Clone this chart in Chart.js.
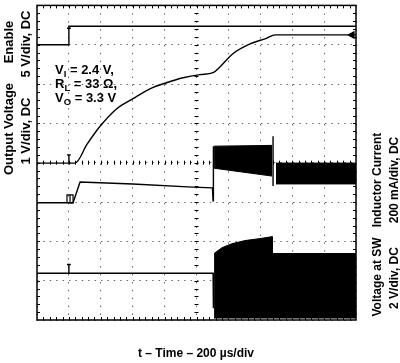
<!DOCTYPE html>
<html>
<head>
<meta charset="utf-8">
<script src="https://cdn.jsdelivr.net/npm/chart.js@4"></script>
<style>
  html, body { margin: 0; padding: 0; background: #fff; }
</style>
</head>
<body>
<canvas id="scope" width="400" height="363"></canvas>
<script>
// x: time in divisions (200 us/div), y: screen divisions (0 = bottom, 8 = top)
const enableX = [0, 1.0, 1.0, 10];
const enableY = [7.0, 7.0, 7.47, 7.47];

const voutX = [0, 1.19, 1.57, 1.97, 2.51, 3.01, 3.54, 4.08, 4.58, 5.11, 5.52, 5.74, 6.14, 6.68, 7.21, 7.46, 10];
const voutY = [3.99, 3.99, 4.47, 4.92, 5.38, 5.63, 5.88, 6.04, 6.16, 6.24, 6.29, 6.44, 6.77, 7.02, 7.17, 7.25, 7.25];

const ilX = [0, 1.13, 1.35, 3.0, 4.88, 5.50, 5.52, 5.53];
const ilY = [2.98, 2.98, 3.51, 3.46, 3.38, 3.36, 3.03, 4.42];
const ilBand1X = [5.55, 7.37];
const ilBand1Top = [4.42, 4.44];
const ilBand1Bot = [3.86, 3.66];
const ilSpikeX = [7.40, 7.40];
const ilSpikeY = [3.41, 4.67];
const ilBand2X = [7.49, 10];
const ilBand2Top = [3.99, 3.99];
const ilBand2Bot = [3.46, 3.46];

const swX = [0, 5.52, 5.53];
const swY = [1.19, 1.19, 0.3];
const swBandX = [5.55, 5.80, 6.11, 6.52, 6.99, 7.37, 7.38, 10];
const swBandTop = [1.69, 1.84, 1.94, 2.02, 2.07, 2.12, 1.69, 1.69];
const swBandBot = [0.05, 0.05, 0.05, 0.05, 0.05, 0.05, 0.05, 0.05];

// trigger / ground markers
const trigEnX = [0.94, 1.06];
const trigEnY = [7.42, 7.42];
const trigVoX = [1.0, 1.0, 0.94, 1.06];
const trigVoY = [3.99, 4.2, 4.2, 4.2];
const trigIlX = [0.94, 0.94, 1.13, 1.13, 1.035, 1.035];
const trigIlY = [2.98, 3.18, 3.18, 2.98, 2.98, 3.18];
const trigSwX = [1.0, 1.0, 0.94, 1.06];
const trigSwY = [1.19, 1.41, 1.41, 1.41];
const arrowX = [9.88];
const arrowY = [7.25];

const pts = (xs, ys) => xs.map((x, i) => ({ x, y: ys[i] }));

function trace(xs, ys, extra) {
    return Object.assign({
        data: pts(xs, ys),
        borderColor: "#000",
        backgroundColor: "#000",
        borderWidth: 1.4,
        pointRadius: 0,
        tension: 0,
        fill: false
    }, extra || {});
}

const FONT = "'Liberation Sans', Arial, sans-serif";

const scopeDecor = {
    id: "scopeDecor",
    beforeDatasetsDraw(chart) {
        const { ctx, chartArea: a } = chart;
        const w = a.right - a.left, h = a.bottom - a.top;
        const cx = a.left + w / 2, cy = a.top + h / 2;
        ctx.save();
        ctx.strokeStyle = "#000";
        ctx.lineWidth = 1;
        ctx.beginPath();
        for (let k = 1; k < 50; k++) {
            const x = Math.round(a.left + k * w / 50) + 0.5;
            ctx.moveTo(x, a.top); ctx.lineTo(x, a.top + 3);
            ctx.moveTo(x, a.bottom); ctx.lineTo(x, a.bottom - 3);
            ctx.moveTo(x, cy - 2); ctx.lineTo(x, cy + 2);
        }
        for (let k = 1; k < 40; k++) {
            const y = Math.round(a.top + k * h / 40) + 0.5;
            ctx.moveTo(a.left, y); ctx.lineTo(a.left + 3, y);
            ctx.moveTo(a.right, y); ctx.lineTo(a.right - 3, y);
            ctx.moveTo(cx - 2, y); ctx.lineTo(cx + 2, y);
        }
        ctx.stroke();
        ctx.lineWidth = 1.5;
        ctx.strokeRect(a.left, a.top, w, h);
        ctx.restore();
    },
    afterDraw(chart) {
        const ctx = chart.ctx;
        ctx.save();
        ctx.fillStyle = "#000";
        const vtext = (s, x, y, size) => {
            ctx.save();
            ctx.font = "bold " + size + "px " + FONT;
            ctx.translate(x, y);
            ctx.rotate(-Math.PI / 2);
            ctx.textAlign = "center";
            ctx.textBaseline = "alphabetic";
            ctx.fillText(s, 0, 0);
            ctx.restore();
        };
        vtext("Enable", 13, 42, 13);
        vtext("5 V/div, DC", 30, 44, 13);
        vtext("Output Voltage", 13, 129, 13);
        vtext("1 V/div, DC", 30, 131, 13);
        vtext("Inductor Current", 381, 180, 12);
        vtext("200 mA/div, DC", 398, 180, 12);
        vtext("Voltage at SW", 381, 277, 12);
        vtext("2 V/div, DC", 398, 278, 12);

        ctx.textAlign = "center";
        ctx.font = "bold 12px " + FONT;
        ctx.fillText("t \u2013 Time \u2013 200 \u00b5s/div", 196, 357);

        // condition annotation with subscripts
        const sub = (main, s, rest, x, y) => {
            ctx.textAlign = "left";
            ctx.font = "bold 13px " + FONT;
            ctx.fillText(main, x, y);
            let dx = ctx.measureText(main).width;
            ctx.font = "bold 9.5px " + FONT;
            ctx.fillText(s, x + dx, y + 3);
            dx += ctx.measureText(s).width;
            ctx.font = "bold 13px " + FONT;
            ctx.fillText(rest, x + dx, y);
        };
        sub("V", "I", " = 2.4 V,", 55, 74);
        sub("R", "L", " = 33 \u03a9,", 55, 88);
        sub("V", "O", " = 3.3 V", 55, 102);
        ctx.restore();
    }
};

new Chart(document.getElementById("scope"), {
    type: "line",
    data: {
        datasets: [
            trace(enableX, enableY),
            trace(trigEnX, trigEnY),
            trace(voutX, voutY, { cubicInterpolationMode: "monotone" }),
            trace(trigVoX, trigVoY),
            trace(arrowX, arrowY, { pointRadius: 3.5, pointStyle: "triangle", pointRotation: 270, showLine: false }),
            trace(ilX, ilY),
            trace(trigIlX, trigIlY, { borderWidth: 1.2 }),
            trace(ilBand1X, ilBand1Top, { borderWidth: 1 }),
            trace(ilBand1X, ilBand1Bot, { borderWidth: 1, fill: "-1" }),
            trace(ilSpikeX, ilSpikeY),
            trace(ilBand2X, ilBand2Top, { borderWidth: 1 }),
            trace(ilBand2X, ilBand2Bot, { borderWidth: 1, fill: "-1" }),
            trace(swX, swY),
            trace(trigSwX, trigSwY),
            trace(swBandX, swBandTop, { borderWidth: 1 }),
            trace(swBandX, swBandBot, { borderWidth: 1, fill: "-1" })
        ]
    },
    options: {
        responsive: false,
        animation: false,
        events: [],
        layout: { padding: { left: 37, right: 44, top: 3, bottom: 43 } },
        plugins: { legend: { display: false }, tooltip: { enabled: false } },
        scales: {
            x: {
                type: "linear", min: 0, max: 10,
                ticks: { display: false, stepSize: 1 },
                grid: { color: "#666", lineWidth: 1, drawTicks: false },
                border: { display: false, dash: [1.5, 6.4] }
            },
            y: {
                type: "linear", min: 0, max: 8,
                ticks: { display: false, stepSize: 1 },
                grid: { color: "#666", lineWidth: 1, drawTicks: false },
                border: { display: false, dash: [1.5, 4.9] }
            }
        }
    },
    plugins: [scopeDecor]
});
</script>
</body>
</html>
